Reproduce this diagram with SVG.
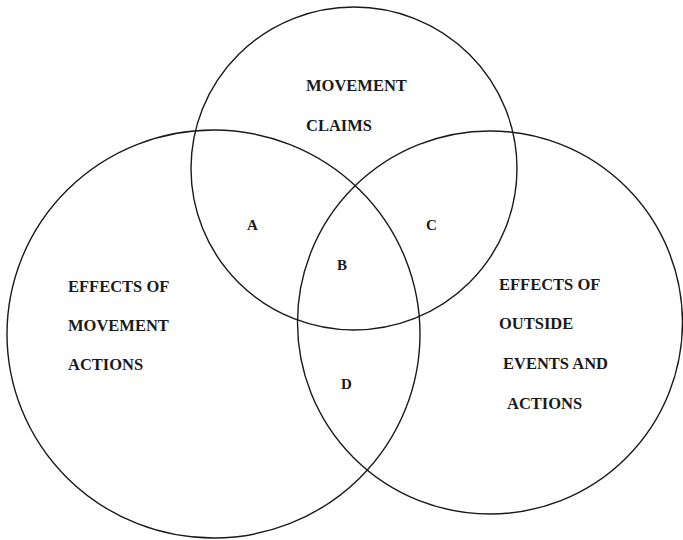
<svg xmlns="http://www.w3.org/2000/svg" width="683" height="540" viewBox="0 0 683 540">
<style>
.c{fill:none;stroke:#1a1a1a;stroke-width:1.4}
.t{font-family:"Liberation Serif","Times New Roman",serif;font-weight:bold;font-size:16.5px;fill:#1a1a1a}
.l{font-family:"Liberation Serif","Times New Roman",serif;font-weight:bold;font-size:15px;fill:#1a1a1a}
</style>
<rect width="683" height="540" fill="#ffffff"/>
<g id="claims">
<ellipse class="c" cx="354" cy="168.5" rx="163" ry="161.5"/>
<text class="t" x="306" y="91">MOVEMENT</text>
<text class="t" x="306" y="131">CLAIMS</text>
</g>
<g id="movement-actions">
<ellipse class="c" cx="213.5" cy="334" rx="206.5" ry="204"/>
<text class="t" x="68" y="292">EFFECTS OF</text>
<text class="t" x="68" y="331">MOVEMENT</text>
<text class="t" x="68" y="370">ACTIONS</text>
</g>
<g id="outside-events">
<ellipse class="c" cx="490" cy="322.5" rx="192.5" ry="191.5"/>
<text class="t" x="499" y="290">EFFECTS OF</text>
<text class="t" x="499" y="329">OUTSIDE</text>
<text class="t" x="503" y="369">EVENTS AND</text>
<text class="t" x="507" y="409">ACTIONS</text>
</g>
<g id="region-labels">
<text class="l" x="247" y="230">A</text>
<text class="l" x="337" y="270">B</text>
<text class="l" x="426" y="230">C</text>
<text class="l" x="341" y="389">D</text>
</g>
</svg>
